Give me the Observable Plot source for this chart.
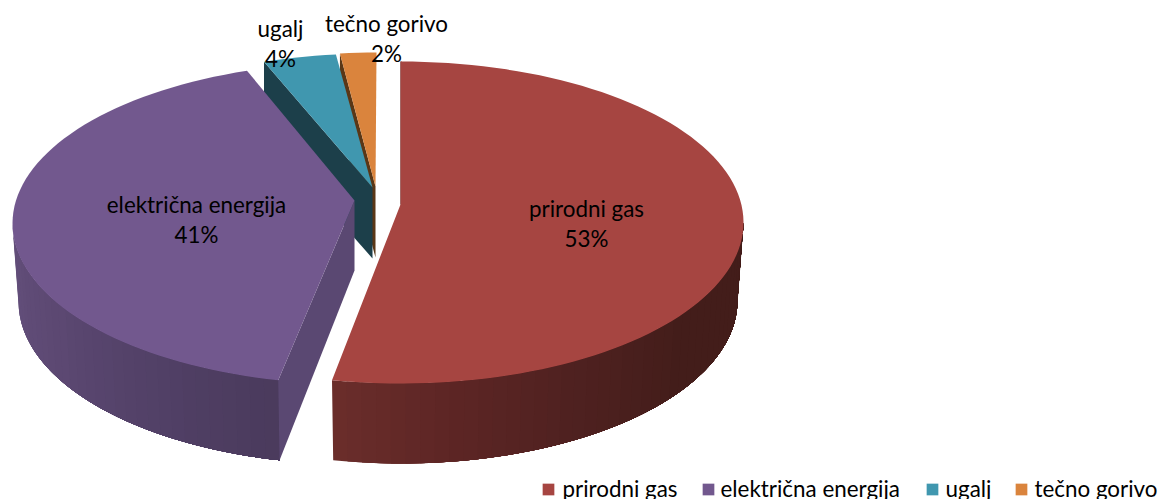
<!DOCTYPE html>
<html><head><meta charset="utf-8">
<style>html,body{margin:0;padding:0;background:#fff;overflow:hidden}svg{display:block}</style>
<script src="https://cdn.jsdelivr.net/npm/d3@7"></script>
<script src="https://cdn.jsdelivr.net/npm/@observablehq/plot@0.6"></script>
</head><body><div id="c"></div>
<script>
const categories = ["prirodni gas", "električna energija", "ugalj", "tečno gorivo"];
const shares = [53.2, 41.4, 3.7, 1.7];
const percentLabels = ["53%", "41%", "4%", "2%"];
const topColors = ["#a64541", "#72588e", "#4097af", "#da843d"];
const faceColors = ["#431d1a", "#5a4872", "#1c3f4a", "#5a3716"];

// layout: where each exploded slice sits in the pseudo-3D view; n0/n1 = perspective nudge in degrees
const RX = 343, RY = 161, BRX = 337, BRY = 163, DROP = 78;
const layout = [
  {cx: 400, cy: 222, ax: 400, ay: 204, adrop: 70, n0: 0, n1: 0},
  {cx: 355, cy: 223, ax: 354, ay: 200, adrop: 70, n0: 1.5, n1: 1},
  {cx: 372, cy: 214, ax: 372, ay: 187, adrop: 71, n0: 1, n1: 0},
  {cx: 376, cy: 213, ax: 375, ay: 186, adrop: 71, n0: 0, n1: 0}
];
const labelPos = [[586, 222], [196, 218], [280, 42], [386, 37]];
const legendPos = [[548, 562], [708, 720], [932, 945], [1021, 1034]];
const wallRamps = [
  [[90, "#431d1a"], [125, "#431d1a"], [150, "#4f2120"], [170, "#5c2524"], [192, "#6b2e2b"]],
  [[192, "#4a3a5c"], [215, "#514066"], [240, "#5c4872"], [272, "#64507c"]]
];

const rad = d => d * Math.PI / 180;
const topAt = (s, a) => [s.cx + RX * Math.sin(rad(a)), s.cy - RY * Math.cos(rad(a))];
const botAt = (s, a) => [s.cx + BRX * Math.sin(rad(a)), s.cy + DROP - BRY * Math.cos(rad(a))];
const total = d3.sum(shares);
let acc = 0;
const arcs = shares.map((v, i) => { const a0 = acc; acc += v / total * 360; return [a0 + layout[i].n0, acc + layout[i].n1]; });

let polyId = 0;
function poly(pts, color) {
  const id = polyId++;
  return pts.map(([x, y]) => ({x, y, id, color}));
}
function arcPts(s, a0, a1, f) {
  const n = Math.max(2, Math.ceil(Math.abs(a1 - a0) / 2)), out = [];
  for (let i = 0; i <= n; i++) out.push(f(s, a0 + (a1 - a0) * i / n));
  return out;
}
function topPoly(i) {
  const s = layout[i];
  return poly([[s.ax, s.ay], ...arcPts(s, arcs[i][0], arcs[i][1], topAt)], topColors[i]);
}
function cutFace(i, a) {
  const s = layout[i], t = topAt(s, a), b = [t[0], t[1] + 73];
  return poly([[s.ax, s.ay], [s.ax, s.ay + s.adrop], b, t], faceColors[i]);
}
function rampColor(ramp, a) {
  for (let k = 1; k < ramp.length; k++) if (a <= ramp[k][0]) {
    const [a0, c0] = ramp[k - 1], [a1, c1] = ramp[k];
    return d3.interpolateRgb(c0, c1)((a - a0) / (a1 - a0));
  }
  return ramp[ramp.length - 1][1];
}
// Each strip runs on to the far end of the wall, later strips paint over it: no seams between strips.
function wall(i, a0, a1, ramp, fromEnd) {
  const s = layout[i], out = [], step = 2.5;
  const n = Math.ceil((a1 - a0) / step);
  for (let k = 0; k < n; k++) {
    const j = fromEnd ? k : n - 1 - k;
    const p = a0 + (a1 - a0) * j / n, q = a0 + (a1 - a0) * (j + 1) / n;
    const end = fromEnd ? p : q, start = fromEnd ? a1 : a0;
    const lo = Math.min(start, end), hi = Math.max(start, end);
    const boundTop = arcPts(s, lo, hi, topAt), boundBot = arcPts(s, lo, hi, botAt).reverse();
    out.push(...poly([...boundTop, ...boundBot], rampColor(ramp, (p + q) / 2)));
  }
  return out;
}
function purpleFace() {
  const s = layout[1], a = arcs[1][0];
  return poly([[s.ax, s.ay], [s.ax, s.ay + s.adrop], botAt(s, a), topAt(s, a)], faceColors[1]);
}

const shapes = [
  ...cutFace(3, arcs[3][0]),
  ...cutFace(2, arcs[2][0]),
  ...topPoly(2),
  ...topPoly(3),
  ...wall(1, arcs[1][0], 270, wallRamps[1], false),
  ...purpleFace(),
  ...topPoly(1),
  ...wall(0, 90, arcs[0][1], wallRamps[0], false),
  ...poly([topAt(layout[0], 0), [layout[0].ax, layout[0].ay], [layout[0].ax + 1, layout[0].ay], topAt(layout[0], 0.2)], faceColors[0]),
  ...topPoly(0)
];

const labels = categories.map((c, i) => ({text: c + "\n" + percentLabels[i], x: labelPos[i][0], y: labelPos[i][1]}));
const legendItems = categories.map((c, i) => ({c, color: topColors[i], sx: legendPos[i][0], tx: legendPos[i][1]}));

const FONT = "Lato, Carlito, Calibri, sans-serif";
const chart = Plot.plot({
  width: 1159, height: 499, margin: 0,
  x: {domain: [0, 1159], range: [0, 1159], axis: null},
  y: {domain: [0, 499], range: [0, 499], axis: null},
  color: {type: "identity"},
  style: {background: "#fff"},
  marks: [
    Plot.line(shapes, {x: "x", y: "y", z: "id", fill: "color", stroke: "none", curve: "linear-closed"}),
    Plot.text(labels, {x: "x", y: "y", text: "text", fontSize: 22.4, lineHeight: 1.32, fill: "#000", fontFamily: FONT, textAnchor: "middle"}),
    Plot.dot(legendItems, {x: "sx", y: () => 489, symbol: "square", r: 6.6, fill: "color", stroke: null}),
    Plot.text(legendItems, {x: "tx", y: () => 489, text: "c", textAnchor: "start", fontSize: 22.4, fill: "#000", fontFamily: FONT})
  ]
});
document.getElementById("c").append(chart);
</script></body></html>
